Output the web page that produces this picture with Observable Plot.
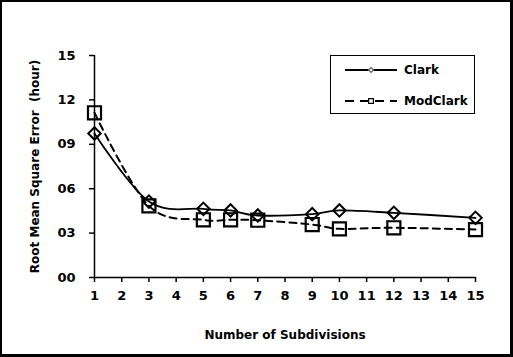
<!DOCTYPE html>
<html>
<head>
<meta charset="utf-8">
<script src="https://cdn.jsdelivr.net/npm/d3@7"></script>
<script src="https://cdn.jsdelivr.net/npm/@observablehq/plot@0.6"></script>
<style>
  html, body { margin: 0; padding: 0; background: #fff; }
  #wrap { position: relative; width: 513px; height: 357px; overflow: hidden; }
  #border { position: absolute; left: 0; top: 0; width: 513px; height: 357px; box-sizing: border-box; border: 2px solid #000; border-right-width: 3px; border-bottom-width: 3px; pointer-events: none; }
  #legend { position: absolute; left: 330px; top: 55px; width: 145px; height: 59px; box-sizing: border-box; border: 1px solid #000; background: #fff; font: bold 12px "DejaVu Sans", sans-serif; }
  .row { position: absolute; left: 14px; height: 16px; display: flex; align-items: center; }
  .row svg { display: block; }
  .row span { margin-left: 7px; }
</style>
</head>
<body>
<div id="wrap">
  <div id="chart"></div>
  <div id="legend"></div>
  <div id="border"></div>
</div>
<script>
const subdivisions = [1, 3, 5, 6, 7, 9, 10, 12, 15];
const clark    = [9.73, 5.13, 4.64, 4.53, 4.19, 4.28, 4.53, 4.37, 4.03];
const modClark = [11.13, 4.84, 3.90, 3.90, 3.87, 3.58, 3.29, 3.36, 3.24];
const seriesNames = ["Clark", "ModClark"];
const xTicks = d3.range(1, 16);
const yTicks = [0, 3, 6, 9, 12, 15];
const yTickLabels = ["00", "03", "06", "09", "12", "15"];
const xLabel = "Number of Subdivisions";
const yLabel = "Root Mean Square Error  (hour)";

const clarkData = subdivisions.map((x, i) => ({x, y: clark[i]}));
const modData = subdivisions.map((x, i) => ({x, y: modClark[i]}));

const font = '"DejaVu Sans", sans-serif';

const chart = Plot.plot({
  width: 513,
  height: 357,
  marginLeft: 94,
  marginRight: 38,
  marginTop: 55,
  marginBottom: 80,
  style: {fontFamily: font, fontSize: "12px", fontWeight: "bold", color: "#000", background: "#fff"},
  x: {domain: [1, 15], label: null},
  y: {domain: [0, 15], label: null},
  marks: [
    Plot.axisX({ticks: xTicks, tickFormat: d => String(d), tickSize: 5, tickPadding: 8, label: null, stroke: "#000", strokeWidth: 1.5, strokeOpacity: 1, fontSize: 13}),
    Plot.axisY({ticks: yTicks, tickFormat: d => yTickLabels[yTicks.indexOf(d)], tickSize: 5, tickPadding: 14, label: null, stroke: "#000", strokeWidth: 1.5, strokeOpacity: 1, fontSize: 13}),
    Plot.ruleX([1], {stroke: "#000", strokeWidth: 1.5}),
    Plot.ruleY([0], {stroke: "#000", strokeWidth: 1.5}),
    Plot.line(modData, {x: "x", y: "y", curve: "cardinal", stroke: "#000", strokeWidth: 2, strokeDasharray: "7,5"}),
    Plot.line(clarkData, {x: "x", y: "y", curve: "cardinal", stroke: "#000", strokeWidth: 1.8}),
    Plot.dot(clarkData, {x: "x", y: "y", symbol: "diamond2", r: 5.6, fill: "none", stroke: "#000", strokeWidth: 2}),
    Plot.dot(modData, {x: "x", y: "y", symbol: "square2", r: 8.3, fill: "none", stroke: "#000", strokeWidth: 2.2}),
    Plot.text([xLabel], {frameAnchor: "bottom", dy: 58, text: d => d, fontSize: 12, fontWeight: "bold", textAnchor: "middle", lineAnchor: "middle"}),
    Plot.text([yLabel], {frameAnchor: "left", dx: -59, rotate: -90, text: d => d, fontSize: 12, fontWeight: "bold", textAnchor: "middle", lineAnchor: "middle"})
  ]
});
document.getElementById("chart").appendChild(chart);

// Legend
const legend = document.getElementById("legend");
const legendSpec = [
  {name: seriesNames[0], dash: null, symbol: d3.symbolDiamond2, size: 16},
  {name: seriesNames[1], dash: "9,6", symbol: d3.symbolSquare2, size: 30}
];
legendSpec.forEach((s, i) => {
  const row = document.createElement("div");
  row.className = "row";
  row.style.top = (i === 0 ? 6 : 37) + "px";
  const svg = d3.create("svg").attr("width", 52).attr("height", 16);
  svg.append("line").attr("x1", 0).attr("x2", 52).attr("y1", 8).attr("y2", 8)
    .attr("stroke", "#000").attr("stroke-width", 2)
    .attr("stroke-dasharray", s.dash);
  svg.append("path").attr("d", d3.symbol(s.symbol, s.size)())
    .attr("transform", "translate(26,8)")
    .attr("fill", "#fff").attr("stroke", i === 0 ? "#666" : "#000").attr("stroke-width", 1.2);
  row.appendChild(svg.node());
  const t = document.createElement("span");
  t.textContent = s.name;
  row.appendChild(t);
  legend.appendChild(row);
});
</script>
</body>
</html>
